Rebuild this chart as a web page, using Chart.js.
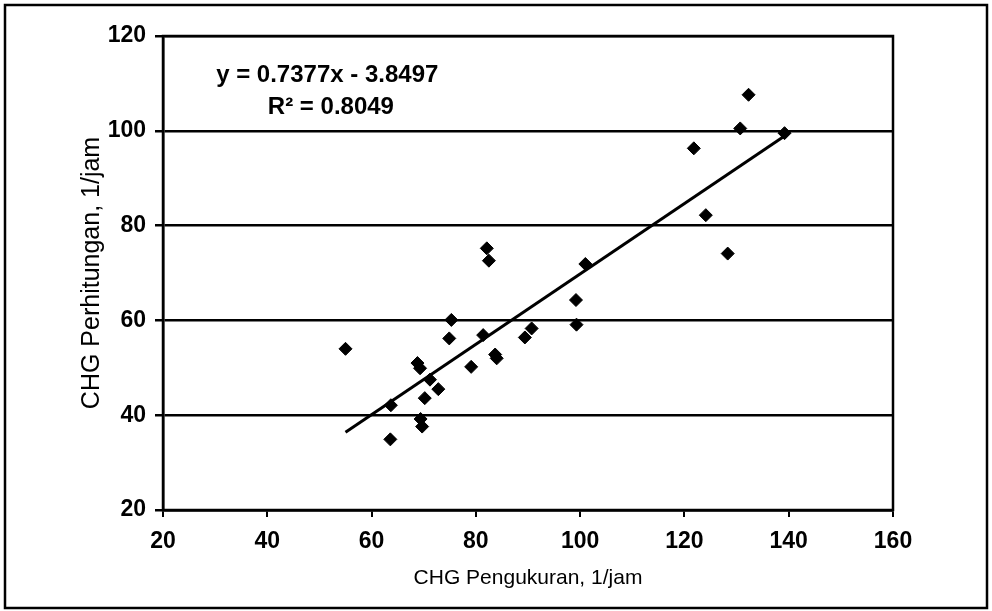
<!DOCTYPE html>
<html>
<head>
<meta charset="utf-8">
<script src="https://cdn.jsdelivr.net/npm/chart.js@4"></script>
<style>
  html, body { margin: 0; padding: 0; background: #fff; }
  #wrap { width: 992px; height: 611px; }
</style>
</head>
<body>
<div id="wrap"><canvas id="chart" width="992" height="611"></canvas></div>
<script>
// Titik data
const xValues = [55, 63.7, 63.6, 68.8, 69.3, 71.2, 72.8, 70.2, 69.4, 69.7, 74.9, 75.3, 79.1, 81.4, 82.1, 82.5,
                 83.7, 84.0, 89.4, 90.7, 99.3, 99.2, 101.0, 121.8, 124.1, 128.3, 130.7, 132.3, 139.2];
const yValues = [54.0, 42.1, 34.9, 51.0, 49.9, 47.5, 45.5, 43.6, 39.2, 37.6, 56.2, 60.1, 50.2, 56.9, 75.2, 72.6,
                 52.8, 52.0, 56.4, 58.3, 59.1, 64.3, 71.9, 96.3, 82.2, 74.1, 100.5, 107.6, 99.5];

// Garis tren (ujung-ujungnya)
const trendX = [55, 139.2];
const trendY = [36.4, 98.9];

const equationText = 'y = 0.7377x - 3.8497';
const r2Text = 'R² = 0.8049';

const xTitle = 'CHG Pengukuran, 1/jam';
const yTitle = 'CHG Perhitungan, 1/jam';

const points = xValues.map((x, i) => ({ x: x, y: yValues[i] }));
const trend = trendX.map((x, i) => ({ x: x, y: trendY[i] }));

// Bingkai luar + bingkai area plot + teks persamaan
const framePlugin = {
    id: 'frame',
    beforeDraw(chart) {
        const ctx = chart.ctx;
        ctx.save();
        ctx.fillStyle = '#fff';
        ctx.fillRect(0, 0, chart.width, chart.height);
        ctx.strokeStyle = '#000';
        ctx.lineWidth = 2.5;
        ctx.strokeRect(5, 5, 982, 603);
        ctx.restore();
    },
    afterDraw(chart) {
        const ctx = chart.ctx;
        const a = chart.chartArea;
        const xs = chart.scales.x;
        const ys = chart.scales.y;
        ctx.save();
        ctx.strokeStyle = '#000';
        ctx.lineWidth = 2.5;
        ctx.strokeRect(a.left, a.top, a.right - a.left, a.bottom - a.top);

        ctx.fillStyle = '#000';
        ctx.font = 'bold 24px "Liberation Sans", Arial, sans-serif';
        ctx.textAlign = 'center';
        ctx.textBaseline = 'middle';
        ctx.fillText(equationText, xs.getPixelForValue(51.5), ys.getPixelForValue(111.7));
        ctx.fillText(r2Text, xs.getPixelForValue(52.2), ys.getPixelForValue(104.9));
        ctx.restore();
    }
};

const tickFont = { family: '"Liberation Sans", Arial, sans-serif', size: 23, weight: 'bold' };

new Chart(document.getElementById('chart'), {
    type: 'scatter',
    data: {
        datasets: [
            {
                label: 'Data',
                data: points,
                pointStyle: 'rectRot',
                pointRadius: 6.5,
                pointHoverRadius: 6.5,
                backgroundColor: '#000',
                borderColor: '#000',
                borderWidth: 1
            },
            {
                label: 'Tren',
                type: 'line',
                data: trend,
                borderColor: '#000',
                borderWidth: 3,
                pointRadius: 0,
                fill: false
            }
        ]
    },
    options: {
        responsive: false,
        animation: false,
        layout: { padding: { top: 36, right: 99, left: 0, bottom: 0 } },
        plugins: {
            legend: { display: false },
            tooltip: { enabled: false }
        },
        scales: {
            x: {
                type: 'linear',
                min: 20,
                max: 160,
                ticks: { stepSize: 20, color: '#000', font: tickFont, padding: 11, maxRotation: 0 },
                grid: { drawOnChartArea: false, drawTicks: true, tickLength: 7, color: '#000', lineWidth: 2 },
                border: { display: true, color: '#000', width: 2.5 },
                title: { display: true, text: xTitle, color: '#000',
                         font: { family: '"Liberation Sans", Arial, sans-serif', size: 21 }, padding: 20 },
                afterFit(scale) { scale.height = 101; }
            },
            y: {
                type: 'linear',
                min: 20,
                max: 120,
                ticks: { stepSize: 20, color: '#000', font: tickFont, padding: 9 },
                grid: { drawTicks: true, tickLength: 8, color: '#000', lineWidth: 2.5 },
                border: { display: true, color: '#000', width: 2.5 },
                title: { display: true, text: yTitle, color: '#000',
                         font: { family: '"Liberation Sans", Arial, sans-serif', size: 25 }, padding: 77 },
                afterFit(scale) { scale.width = 163; }
            }
        }
    },
    plugins: [framePlugin]
});
</script>
</body>
</html>
